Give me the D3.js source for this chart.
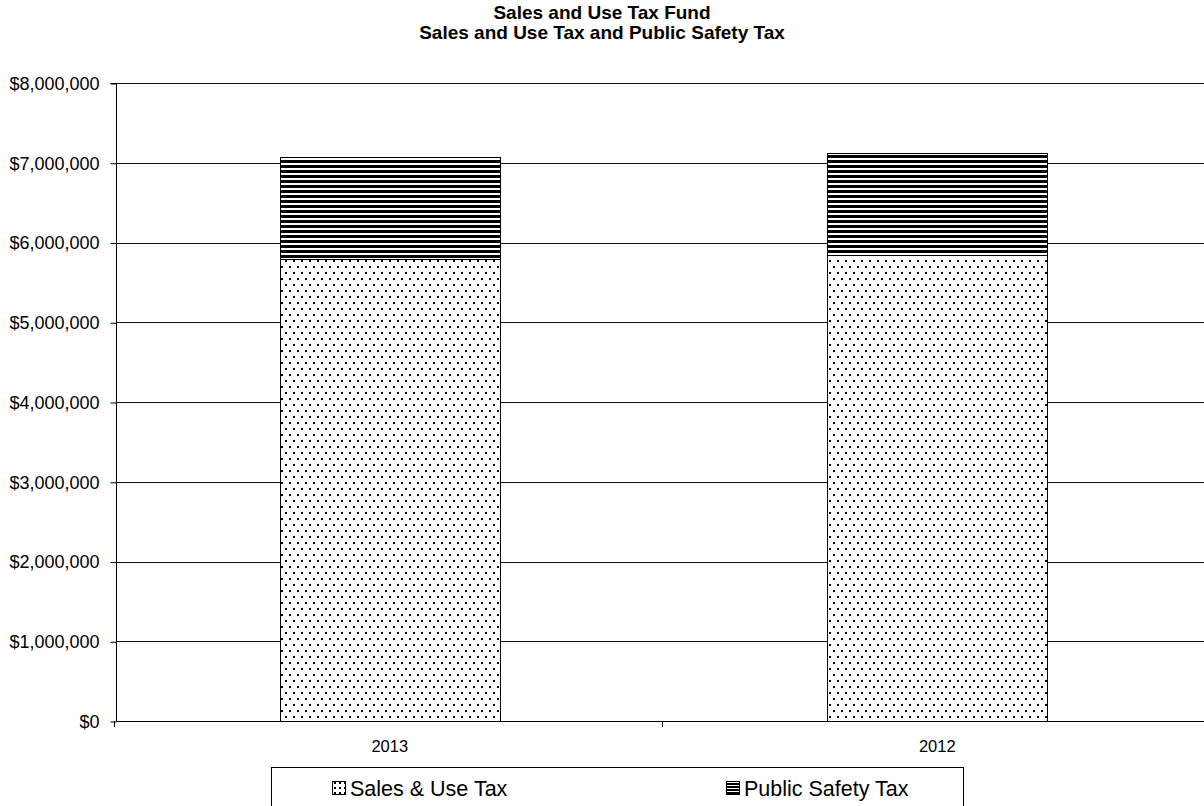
<!DOCTYPE html>
<html>
<head>
<meta charset="utf-8">
<script src="https://cdn.jsdelivr.net/npm/d3@7"></script>
<style>
  html, body { margin: 0; padding: 0; background: #fff; }
  svg { display: block; font-family: "Liberation Sans", Arial, sans-serif; }
</style>
</head>
<body>
<svg id="chart" width="1204" height="806"></svg>
<script>
// Chart data
const years = ["2013", "2012"];
const salesUseTax = [5790000, 5840000];
const publicSafetyTax = [1280000, 1285000];
const yTicks = [0, 1000000, 2000000, 3000000, 4000000, 5000000, 6000000, 7000000, 8000000];
const seriesNames = ["Sales & Use Tax", "Public Safety Tax"];
const titleLines = ["Sales and Use Tax Fund", "Sales and Use Tax and Public Safety Tax"];

const svg = d3.select("#chart");
const W = 1204, H = 806;
const plot = { left: 116, right: 1211, top: 83, bottom: 721 };

// Fill patterns: dotted for sales tax, horizontal stripes for public safety tax
const defs = svg.append("defs");
const dots = defs.append("pattern")
  .attr("id", "dots").attr("patternUnits", "userSpaceOnUse")
  .attr("width", 8).attr("height", 12);
dots.append("rect").attr("width", 8).attr("height", 12).attr("fill", "#fff");
dots.append("rect").attr("x", 1).attr("y", 2).attr("width", 2).attr("height", 2).attr("fill", "#000");
dots.append("rect").attr("x", 5).attr("y", 8).attr("width", 2).attr("height", 2).attr("fill", "#000");

const stripes = defs.append("pattern")
  .attr("id", "stripes").attr("patternUnits", "userSpaceOnUse")
  .attr("width", 8).attr("height", 5);
stripes.append("rect").attr("width", 8).attr("height", 5).attr("fill", "#fff");
stripes.append("rect").attr("y", 0).attr("width", 8).attr("height", 3).attr("fill", "#000");

const legendDots = defs.append("pattern")
  .attr("id", "legendDots").attr("patternUnits", "userSpaceOnUse")
  .attr("width", 5).attr("height", 5);
legendDots.append("rect").attr("width", 5).attr("height", 5).attr("fill", "#fff");
legendDots.append("rect").attr("x", 2).attr("y", 2).attr("width", 2).attr("height", 2).attr("fill", "#000");

const legendStripes = defs.append("pattern")
  .attr("id", "legendStripes").attr("patternUnits", "userSpaceOnUse")
  .attr("width", 4).attr("height", 3);
legendStripes.append("rect").attr("width", 4).attr("height", 3).attr("fill", "#fff");
legendStripes.append("rect").attr("width", 4).attr("height", 2).attr("fill", "#000");

// Scales
const x = d3.scaleBand().domain(years)
  .range([plot.left, plot.right])
  .paddingInner(0.5985).paddingOuter(0.29925);
const y = d3.scaleLinear().domain([0, 8000000]).range([plot.bottom, plot.top]);

// Title
svg.append("g").selectAll("text").data(titleLines).join("text")
  .attr("x", 602).attr("y", (d, i) => 19 + i * 20)
  .attr("text-anchor", "middle")
  .attr("font-size", 19).attr("font-weight", "bold").attr("fill", "#000")
  .text(d => d);

// Horizontal gridlines
svg.append("g").selectAll("line").data(yTicks.filter(v => v > 0)).join("line")
  .attr("x1", plot.left).attr("x2", W)
  .attr("y1", d => Math.round(y(d)) + 0.5).attr("y2", d => Math.round(y(d)) + 0.5)
  .attr("stroke", "#111").attr("stroke-width", 1);

// Stacked bars
const stacked = years.map((yr, i) => ({
  year: yr,
  parts: [
    { key: "sales", y0: 0, y1: salesUseTax[i], fill: "url(#dots)" },
    { key: "safety", y0: salesUseTax[i], y1: salesUseTax[i] + publicSafetyTax[i], fill: "url(#stripes)" }
  ]
}));
const barG = svg.append("g").attr("shape-rendering", "crispEdges");
stacked.forEach(s => {
  barG.selectAll(null).data(s.parts).join("rect")
    .attr("x", Math.round(x(s.year)) + 0.5)
    .attr("width", Math.round(x.bandwidth()))
    .attr("y", d => Math.round(y(d.y1)) + 0.5)
    .attr("height", d => Math.round(y(d.y0)) - Math.round(y(d.y1)))
    .attr("fill", d => d.fill)
    .attr("stroke", "#000").attr("stroke-width", 1);
});

// Y axis
const yAxis = d3.axisLeft(y).tickValues(yTicks).tickSize(6).tickPadding(11)
  .tickFormat(d => "$" + d3.format(",")(d));
const yg = svg.append("g").attr("transform", `translate(${plot.left + 0.5},0.5)`).call(yAxis);
yg.select(".domain").attr("stroke", "#000").attr("d", `M-6,${plot.top}H0V${plot.bottom}`);
yg.selectAll(".tick line").attr("stroke", "#000");
yg.selectAll(".tick text").attr("font-size", 18).attr("fill", "#000")
  .attr("font-family", "Liberation Sans, Arial, sans-serif");

// X axis baseline with category separators
svg.append("line")
  .attr("x1", plot.left).attr("x2", W)
  .attr("y1", plot.bottom + 0.5).attr("y2", plot.bottom + 0.5)
  .attr("stroke", "#000");
const seps = [plot.left, plot.left + x.step()];
svg.append("g").selectAll("line").data(seps).join("line")
  .attr("x1", d => Math.round(d) - 1.5).attr("x2", d => Math.round(d) - 1.5)
  .attr("y1", plot.bottom).attr("y2", plot.bottom + 6)
  .attr("stroke", "#000");
svg.append("g").selectAll("text").data(years).join("text")
  .attr("x", d => x(d) + x.bandwidth() / 2)
  .attr("y", plot.bottom + 31)
  .attr("text-anchor", "middle")
  .attr("font-size", 16.5).attr("fill", "#000")
  .text(d => d);

// Legend
const legend = svg.append("g");
legend.append("rect")
  .attr("x", 271.5).attr("y", 767.5).attr("width", 692).attr("height", 50)
  .attr("fill", "#fff").attr("stroke", "#000");
const legendItems = [
  { name: seriesNames[0], fill: "url(#legendDots)", ix: 332 },
  { name: seriesNames[1], fill: "url(#legendStripes)", ix: 726 }
];
const li = legend.selectAll("g").data(legendItems).join("g")
  .attr("transform", d => `translate(${d.ix},0)`);
li.append("rect")
  .attr("x", 0.5).attr("y", 781.5).attr("width", 13).attr("height", 13)
  .attr("fill", d => d.fill).attr("stroke", "#000")
  .attr("shape-rendering", "crispEdges");
li.append("text")
  .attr("x", 18).attr("y", 796)
  .attr("font-size", 21.5).attr("fill", "#000")
  .text(d => d.name);
</script>
</body>
</html>
